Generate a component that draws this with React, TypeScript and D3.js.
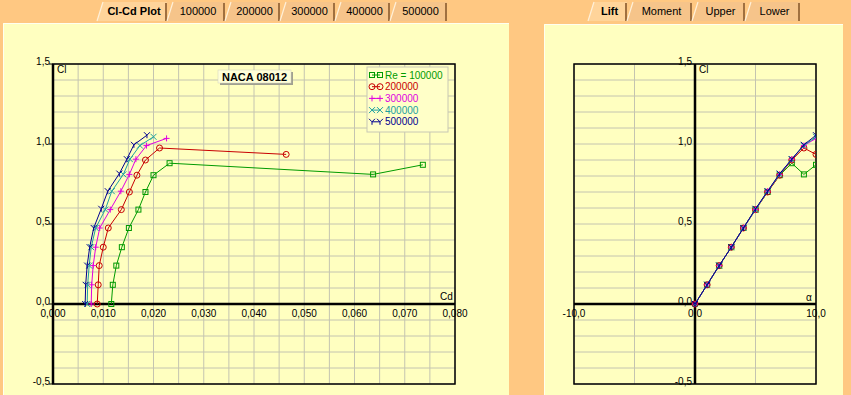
import React from "react";
import * as d3 from "d3";

// ---------- data ----------
const alphaDeg = [0, 1, 2, 3, 4, 5, 6, 7, 8, 9, 10];
const seriesNames = ["Re = 100000", "200000", "300000", "400000", "500000"];
const cd100k = [0.0116, 0.0119, 0.0126, 0.0137, 0.0151, 0.0170, 0.0184, 0.0200, 0.0232, 0.0637, 0.0736];
const cl100k = [0, 0.12, 0.24, 0.355, 0.475, 0.59, 0.70, 0.805, 0.88, 0.81, 0.87];
const cd200k = [0.0088, 0.0090, 0.0092, 0.0100, 0.0110, 0.0136, 0.0152, 0.0167, 0.0184, 0.0212, 0.0464];
const cl200k = [0, 0.12, 0.24, 0.355, 0.475, 0.59, 0.70, 0.805, 0.90, 0.975, 0.935];
const cd300k = [0.0076, 0.0077, 0.0080, 0.0085, 0.0093, 0.0114, 0.0135, 0.0152, 0.0165, 0.0186, 0.0226];
const cl300k = [0, 0.12, 0.24, 0.355, 0.475, 0.59, 0.705, 0.81, 0.905, 0.99, 1.035];
const cd400k = [0.0068, 0.0069, 0.0072, 0.0076, 0.0085, 0.0104, 0.0117, 0.0140, 0.0153, 0.0173, 0.0200];
const cl400k = [0, 0.12, 0.24, 0.355, 0.475, 0.59, 0.705, 0.81, 0.905, 0.99, 1.045];
const cd500k = [0.0064, 0.0065, 0.0068, 0.0073, 0.0081, 0.0096, 0.0109, 0.0132, 0.0147, 0.0161, 0.0187];
const cl500k = [0, 0.12, 0.24, 0.355, 0.475, 0.595, 0.705, 0.815, 0.905, 0.995, 1.055];
const cdTicks = [0, 0.01, 0.02, 0.03, 0.04, 0.05, 0.06, 0.07, 0.08];
const clTicks = [1.5, 1.0, 0.5, 0.0, -0.5];
const alphaTicks = [-10, 0, 10];
const leftTabs = ["Cl-Cd Plot", "100000", "200000", "300000", "400000", "500000"];
const rightTabs = ["Lift", "Moment", "Upper", "Lower"];
const chartTitle = "NACA 08012";

// ---------- styles ----------
const colors = ["#009a00", "#c80000", "#e000e0", "#20a0a0", "#000090"];
const markers = ["square", "circle", "plus", "cross", "wye"];
const ORANGE = "#ffc882";
const PANEL = "#ffffc0";
const GRID = "#c4c4b0";
const FONT = "Liberation Sans, Arial, sans-serif";

const fmt = (v: number, d: number) => v.toFixed(d).replace(".", ",");

function Marker({ type, x, y, color }: { type: string; x: number; y: number; color: string }) {
  const s = 3;
  if (type === "square") return <rect x={x - 2.5} y={y - 2.5} width={5} height={5} fill="none" stroke={color} strokeWidth={1} />;
  if (type === "circle") return <circle cx={x} cy={y} r={3} fill="none" stroke={color} strokeWidth={1} />;
  if (type === "plus") return <path d={`M${x - s},${y}H${x + s}M${x},${y - s}V${y + s}`} fill="none" stroke={color} strokeWidth={1} />;
  if (type === "cross") return <path d={`M${x - s},${y - s}L${x + s},${y + s}M${x - s},${y + s}L${x + s},${y - s}`} fill="none" stroke={color} strokeWidth={1} />;
  return <path d={`M${x - s},${y - s}L${x},${y}L${x + s},${y - s}M${x},${y}V${y + s}`} fill="none" stroke={color} strokeWidth={1} />;
}

function Tabs({ labels, edges, selected }: { labels: string[]; edges: number[]; selected: number }) {
  return (
    <g>
      {labels.map((lab, i) => {
        const x0 = edges[i], x1 = edges[i + 1];
        const sel = i === selected;
        return (
          <g key={lab}>
            <path d={`M${x0},21L${x0 + 6},2H${x1}V21Z`} fill={sel ? "#ffd49a" : "#f6c48a"} />
            <path d={`M${x0},21L${x0 + 6},2`} stroke="#fff0d8" strokeWidth={1.2} fill="none" />
            <path d={`M${x1 - 1},3V21`} stroke="#a07040" strokeWidth={2} />
            <text x={(x0 + x1) / 2 + 2} y={15} textAnchor="middle" fontFamily={FONT} fontSize={11}
              fontWeight={sel ? "bold" : "normal"} fill="#000">{lab}</text>
          </g>
        );
      })}
    </g>
  );
}

export default function App() {
  const cds = [cd100k, cd200k, cd300k, cd400k, cd500k];
  const cls = [cl100k, cl200k, cl300k, cl400k, cl500k];

  // left chart
  const xL = d3.scaleLinear().domain([0, 0.08]).range([53, 455]);
  const yS = d3.scaleLinear().domain([-0.5, 1.5]).range([384, 64]);
  // right chart
  const xR = d3.scaleLinear().domain([-10, 10]).range([574, 816]);

  const clGrid = d3.range(-5, 16).map((v) => v / 10);
  const cdGrid = d3.range(0, 17).map((v) => v * 0.005);
  const alphaGrid = [-10, -5, 0, 5, 10];

  const lineL = d3.line<[number, number]>().x((d) => xL(d[0])).y((d) => yS(d[1]));
  const lineR = d3.line<[number, number]>().x((d) => xR(d[0])).y((d) => yS(d[1]));

  return (
    <svg width={851} height={395} style={{ position: "absolute", left: 0, top: 0, display: "block" }}>
      <defs>
        <clipPath id="clipR"><rect x={574} y={64} width={242} height={320} /></clipPath>
      </defs>
      <rect x={0} y={0} width={851} height={395} fill={ORANGE} />
      {/* panels */}
      <rect x={3} y={23} width={506} height={372} fill={PANEL} />
      <path d="M3.5,395V23.5H509" stroke="#fffff0" fill="none" />
      <rect x={544} y={24} width={299} height={371} fill={PANEL} />
      <path d="M544.5,395V24.5H843" stroke="#fffff0" fill="none" />

      <Tabs labels={leftTabs} edges={[97, 167, 225, 280, 335, 390, 447]} selected={0} />
      <Tabs labels={rightTabs} edges={[588, 627, 692, 745, 800]} selected={0} />

      {/* ---------- left chart ---------- */}
      <g>
        {cdGrid.map((v) => (
          <line key={"vx" + v} x1={xL(v)} x2={xL(v)} y1={64} y2={384} stroke={GRID} strokeWidth={1} />
        ))}
        {clGrid.map((v) => (
          <line key={"hy" + v} x1={53} x2={455} y1={yS(v)} y2={yS(v)} stroke={GRID} strokeWidth={1} />
        ))}
        <rect x={53} y={64} width={402} height={320} fill="none" stroke="#000" strokeWidth={1.5} />
        <line x1={xL(0)} x2={xL(0)} y1={64} y2={384} stroke="#000" strokeWidth={2.5} />
        <line x1={53} x2={455} y1={yS(0)} y2={yS(0)} stroke="#000" strokeWidth={2.5} />
        {clTicks.map((v) => (
          <g key={"lt" + v}>
            <line x1={49} x2={53} y1={yS(v)} y2={yS(v)} stroke="#000" />
            <text x={50} y={yS(v) + 1} textAnchor="end" fontFamily={FONT} fontSize={10}>{fmt(v, 1)}</text>
          </g>
        ))}
        {cdTicks.map((v) => (
          <text key={"lx" + v} x={xL(v)} y={317} textAnchor="middle" fontFamily={FONT} fontSize={10}>{fmt(v, 3)}</text>
        ))}
        <text x={57} y={73} fontFamily={FONT} fontSize={10}>Cl</text>
        <text x={440} y={300} fontFamily={FONT} fontSize={10}>Cd</text>

        {cds.map((cd, si) => {
          const pts: [number, number][] = cd.map((c, i) => [c, cls[si][i]]);
          return (
            <g key={"sl" + si}>
              <path d={lineL(pts) || ""} fill="none" stroke={colors[si]} strokeWidth={1} />
              {pts.map((p, i) => (
                <Marker key={i} type={markers[si]} x={xL(p[0])} y={yS(p[1])} color={colors[si]} />
              ))}
            </g>
          );
        })}

        {/* title box */}
        <rect x={220} y={72} width={73} height={13} fill="#a0a090" />
        <rect x={218} y={70} width={73} height={13} fill="#ffffd8" stroke="#d0d0c0" strokeWidth={0.5} />
        <text x={254.5} y={81} textAnchor="middle" fontFamily={FONT} fontSize={11} fontWeight="bold">{chartTitle}</text>

        {/* legend */}
        <rect x={367} y={67} width={81} height={65} fill="#ffffc8" stroke="#c8c8b4" strokeWidth={1} />
        {seriesNames.map((nm, i) => {
          const yy = 75 + i * 11.7;
          return (
            <g key={"lg" + i}>
              <line x1={372} x2={380} y1={yy} y2={yy} stroke={colors[i]} strokeWidth={1} />
              <Marker type={markers[i]} x={372} y={yy} color={colors[i]} />
              <Marker type={markers[i]} x={380} y={yy} color={colors[i]} />
              <text x={385} y={yy + 3.5} fontFamily={FONT} fontSize={10} fill={colors[i]}>{nm}</text>
            </g>
          );
        })}
      </g>

      {/* ---------- right chart ---------- */}
      <g>
        {alphaGrid.map((v) => (
          <line key={"rvx" + v} x1={xR(v)} x2={xR(v)} y1={64} y2={384} stroke={GRID} strokeWidth={1} />
        ))}
        {clGrid.map((v) => (
          <line key={"rhy" + v} x1={574} x2={816} y1={yS(v)} y2={yS(v)} stroke={GRID} strokeWidth={1} />
        ))}
        <rect x={574} y={64} width={242} height={320} fill="none" stroke="#000" strokeWidth={1.5} />
        <line x1={xR(0)} x2={xR(0)} y1={64} y2={384} stroke="#000" strokeWidth={2.5} />
        <line x1={574} x2={816} y1={yS(0)} y2={yS(0)} stroke="#000" strokeWidth={2.5} />
        {clTicks.map((v) => (
          <text key={"rt" + v} x={692} y={yS(v) + 1} textAnchor="end" fontFamily={FONT} fontSize={10}>{fmt(v, 1)}</text>
        ))}
        {alphaTicks.map((v) => (
          <text key={"rx" + v} x={xR(v)} y={317} textAnchor="middle" fontFamily={FONT} fontSize={10}>{fmt(v, 1)}</text>
        ))}
        <text x={699} y={73} fontFamily={FONT} fontSize={10}>Cl</text>
        <text x={806} y={301} fontFamily={FONT} fontSize={10}>α</text>
        <g clipPath="url(#clipR)">
          {cls.map((cl, si) => {
            const pts: [number, number][] = alphaDeg.map((a, i) => [a, cl[i]]);
            return (
              <g key={"sr" + si}>
                <path d={lineR(pts) || ""} fill="none" stroke={colors[si]} strokeWidth={1} />
                {pts.map((p, i) => (
                  <Marker key={i} type={markers[si]} x={xR(p[0])} y={yS(p[1])} color={colors[si]} />
                ))}
              </g>
            );
          })}
        </g>
      </g>
    </svg>
  );
}
